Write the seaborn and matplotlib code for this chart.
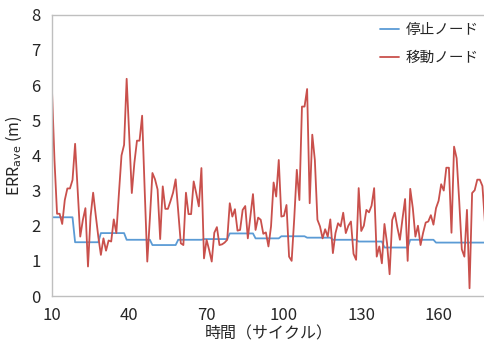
import numpy as np
import pandas as pd
import seaborn as sns
import matplotlib.pyplot as plt

# cycle numbers 10..178
cycles = list(range(10, 179))

# moving node error (10 values per line)
moving = [5.92, 3.87, 2.34, 2.34, 2.05, 2.73, 3.06, 3.06, 3.30, 4.33,
          3.00, 1.69, 2.16, 2.50, 0.84, 2.26, 2.94, 2.30, 1.69, 1.17,
          1.64, 1.29, 1.58, 1.55, 2.18, 1.79, 2.92, 4.00, 4.30, 6.18,
          4.55, 2.93, 3.79, 4.42, 4.42, 5.13, 3.00, 0.98, 2.20, 3.50,
          3.32, 3.03, 1.62, 3.12, 2.48, 2.48, 2.70, 2.94, 3.32, 2.40,
          1.50, 1.45, 2.94, 2.33, 2.33, 3.26, 2.92, 2.55, 3.64, 1.07,
          1.60, 1.31, 0.98, 1.80, 1.96, 1.45, 1.47, 1.52, 1.60, 2.64,
          2.26, 2.47, 1.86, 1.88, 2.45, 2.56, 1.64, 2.26, 2.90, 1.88,
          2.23, 2.17, 1.77, 1.81, 1.41, 1.98, 3.23, 2.83, 3.87, 2.26,
          2.28, 2.59, 1.12, 1.00, 2.20, 3.59, 2.73, 5.39, 5.39, 5.89,
          2.64, 4.59, 3.87, 2.17, 1.98, 1.64, 1.90, 1.69, 2.18, 1.22,
          1.79, 2.07, 1.98, 2.37, 1.79, 2.00, 2.12, 1.20, 1.03, 3.07,
          1.85, 2.00, 2.45, 2.38, 2.57, 3.07, 1.12, 1.41, 0.93, 2.05,
          1.50, 0.62, 2.16, 2.37, 1.95, 1.60, 2.20, 2.76, 1.00, 3.05,
          2.50, 1.69, 2.00, 1.45, 1.80, 2.09, 2.12, 2.30, 2.03, 2.50,
          2.71, 3.18, 3.00, 3.65, 3.65, 1.80, 4.25, 3.92, 2.70, 1.33,
          1.12, 2.45, 0.22, 2.93, 3.01, 3.31, 3.31, 3.13, 2.07]

# stationary node error
stationary = [2.24, 2.24, 2.24, 2.24, 2.24, 2.24, 2.24, 2.24, 2.24,
              1.53, 1.53, 1.53, 1.53, 1.53, 1.53, 1.53, 1.53, 1.53, 1.53,
              1.79, 1.79, 1.79, 1.79, 1.79, 1.79, 1.79, 1.79, 1.79, 1.79,
              1.60, 1.60, 1.60, 1.60, 1.60, 1.60, 1.60, 1.60, 1.60, 1.60,
              1.45, 1.45, 1.45, 1.45, 1.45, 1.45, 1.45, 1.45, 1.45, 1.45,
              1.60, 1.60, 1.60, 1.60, 1.60, 1.60, 1.60, 1.60, 1.60, 1.60,
              1.62, 1.62, 1.62, 1.62, 1.62, 1.62, 1.62, 1.62, 1.62, 1.62,
              1.78, 1.78, 1.78, 1.78, 1.78, 1.78, 1.78, 1.78, 1.78, 1.78,
              1.64, 1.64, 1.64, 1.64, 1.64, 1.64, 1.64, 1.64, 1.64, 1.64,
              1.70, 1.70, 1.70, 1.70, 1.70, 1.70, 1.70, 1.70, 1.70, 1.70,
              1.66, 1.66, 1.66, 1.66, 1.66, 1.66, 1.66, 1.66, 1.66, 1.66,
              1.60, 1.60, 1.60, 1.60, 1.60, 1.60, 1.60, 1.60, 1.60, 1.60,
              1.55, 1.55, 1.55, 1.55, 1.55, 1.55, 1.55, 1.55, 1.55, 1.55,
              1.38, 1.38, 1.38, 1.38, 1.38, 1.38, 1.38, 1.38, 1.38, 1.38,
              1.60, 1.60, 1.60, 1.60, 1.60, 1.60, 1.60, 1.60, 1.60, 1.60,
              1.52, 1.52, 1.52, 1.52, 1.52, 1.52, 1.52, 1.52, 1.52, 1.52,
              1.52, 1.52, 1.52, 1.52, 1.52, 1.52, 1.52, 1.52, 1.52, 1.52]

series_names = ['停止ノード', '移動ノード']
x_ticks = [10, 40, 70, 100, 130, 160]

df = pd.DataFrame({
    'cycle': cycles * 2,
    'err': stationary + moving,
    'node': [series_names[0]] * len(cycles) + [series_names[1]] * len(cycles),
})

sns.set_style('white')
plt.rcParams['font.family'] = ['Noto Sans CJK JP', 'DejaVu Sans']

fig = plt.figure(figsize=(4.85, 3.45), dpi=100)
ax = fig.add_axes([0.107, 0.142, 0.893, 0.815])

sns.lineplot(data=df, x='cycle', y='err', hue='node', ax=ax,
             palette=['#5b9bd5', '#c9504c'], linewidth=1.3)

ax.set_xlim(10, 178)
ax.set_ylim(0, 8)
ax.set_xticks(x_ticks)
ax.set_yticks(range(0, 9))
ax.tick_params(direction='in', length=4, color='#bfbfbf', labelsize=12)
ax.tick_params(axis='x', pad=8)
ax.tick_params(axis='y', pad=8)
for s in ['left', 'bottom', 'top']:
    ax.spines[s].set_color('#bfbfbf')
    ax.spines[s].set_linewidth(1.0)
ax.spines['right'].set_visible(False)

ax.set_xlabel('時間（サイクル）', fontsize=11.5, labelpad=1)
ax.set_ylabel('ERR$_{\\mathrm{ave}}$ (m)', fontsize=11.5, labelpad=5)

ax.legend(frameon=False, loc='upper right', fontsize=10.5, handlelength=1.3,
          handletextpad=0.5, labelspacing=0.9, borderaxespad=0.0,
          bbox_to_anchor=(1.0, 0.99))

plt.savefig('out.png', dpi=100)
